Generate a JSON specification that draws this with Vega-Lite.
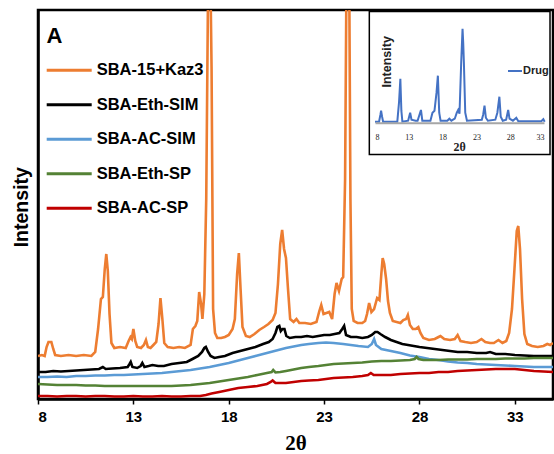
{
"$schema": "https://vega.github.io/schema/vega-lite/v6.json",
"width": 515, "height": 389,
"autosize": "none",
"padding": {"left": 38, "top": 10, "right": 1, "bottom": 55},
"background": "white",
"config": {"view": {"stroke": "black", "strokeWidth": 2.5}, "axis": {"grid": false}},
"datasets": {
"main": [
{"series":"SBA-15+Kaz3","theta":8.0,"intensity":43},{"series":"SBA-15+Kaz3","theta":8.2,"intensity":44},{"series":"SBA-15+Kaz3","theta":8.35,"intensity":43},{"series":"SBA-15+Kaz3","theta":8.45,"intensity":52},{"series":"SBA-15+Kaz3","theta":8.55,"intensity":57},{"series":"SBA-15+Kaz3","theta":8.7,"intensity":57},{"series":"SBA-15+Kaz3","theta":8.8,"intensity":50},{"series":"SBA-15+Kaz3","theta":8.9,"intensity":44},{"series":"SBA-15+Kaz3","theta":9.2,"intensity":43},{"series":"SBA-15+Kaz3","theta":9.6,"intensity":44},{"series":"SBA-15+Kaz3","theta":10.0,"intensity":43},{"series":"SBA-15+Kaz3","theta":10.4,"intensity":44},{"series":"SBA-15+Kaz3","theta":10.8,"intensity":43},{"series":"SBA-15+Kaz3","theta":11.0,"intensity":47},{"series":"SBA-15+Kaz3","theta":11.15,"intensity":70},{"series":"SBA-15+Kaz3","theta":11.3,"intensity":100},{"series":"SBA-15+Kaz3","theta":11.4,"intensity":102},{"series":"SBA-15+Kaz3","theta":11.5,"intensity":130},{"series":"SBA-15+Kaz3","theta":11.58,"intensity":145},{"series":"SBA-15+Kaz3","theta":11.66,"intensity":128},{"series":"SBA-15+Kaz3","theta":11.75,"intensity":85},{"series":"SBA-15+Kaz3","theta":11.85,"intensity":56},{"series":"SBA-15+Kaz3","theta":12.0,"intensity":51},{"series":"SBA-15+Kaz3","theta":12.3,"intensity":52},{"series":"SBA-15+Kaz3","theta":12.6,"intensity":51},{"series":"SBA-15+Kaz3","theta":12.75,"intensity":58},{"series":"SBA-15+Kaz3","theta":12.85,"intensity":62},{"series":"SBA-15+Kaz3","theta":12.92,"intensity":60},{"series":"SBA-15+Kaz3","theta":13.0,"intensity":70},{"series":"SBA-15+Kaz3","theta":13.1,"intensity":58},{"series":"SBA-15+Kaz3","theta":13.2,"intensity":52},{"series":"SBA-15+Kaz3","theta":13.4,"intensity":51},{"series":"SBA-15+Kaz3","theta":13.55,"intensity":54},{"series":"SBA-15+Kaz3","theta":13.66,"intensity":59},{"series":"SBA-15+Kaz3","theta":13.76,"intensity":52},{"series":"SBA-15+Kaz3","theta":13.9,"intensity":51},{"series":"SBA-15+Kaz3","theta":14.05,"intensity":54},{"series":"SBA-15+Kaz3","theta":14.2,"intensity":57},{"series":"SBA-15+Kaz3","theta":14.32,"intensity":75},{"series":"SBA-15+Kaz3","theta":14.42,"intensity":101},{"series":"SBA-15+Kaz3","theta":14.52,"intensity":80},{"series":"SBA-15+Kaz3","theta":14.62,"intensity":56},{"series":"SBA-15+Kaz3","theta":14.8,"intensity":52},{"series":"SBA-15+Kaz3","theta":15.1,"intensity":51},{"series":"SBA-15+Kaz3","theta":15.4,"intensity":52},{"series":"SBA-15+Kaz3","theta":15.7,"intensity":51},{"series":"SBA-15+Kaz3","theta":16.0,"intensity":54},{"series":"SBA-15+Kaz3","theta":16.12,"intensity":70},{"series":"SBA-15+Kaz3","theta":16.25,"intensity":73},{"series":"SBA-15+Kaz3","theta":16.35,"intensity":78},{"series":"SBA-15+Kaz3","theta":16.45,"intensity":107},{"series":"SBA-15+Kaz3","theta":16.55,"intensity":95},{"series":"SBA-15+Kaz3","theta":16.62,"intensity":80},{"series":"SBA-15+Kaz3","theta":16.72,"intensity":105},{"series":"SBA-15+Kaz3","theta":16.82,"intensity":200},{"series":"SBA-15+Kaz3","theta":16.92,"intensity":420},{"series":"SBA-15+Kaz3","theta":17.02,"intensity":450},{"series":"SBA-15+Kaz3","theta":17.1,"intensity":330},{"series":"SBA-15+Kaz3","theta":17.18,"intensity":90},{"series":"SBA-15+Kaz3","theta":17.28,"intensity":66},{"series":"SBA-15+Kaz3","theta":17.4,"intensity":61},{"series":"SBA-15+Kaz3","theta":17.6,"intensity":61},{"series":"SBA-15+Kaz3","theta":17.8,"intensity":62},{"series":"SBA-15+Kaz3","theta":18.0,"intensity":64},{"series":"SBA-15+Kaz3","theta":18.2,"intensity":70},{"series":"SBA-15+Kaz3","theta":18.32,"intensity":80},{"series":"SBA-15+Kaz3","theta":18.44,"intensity":125},{"series":"SBA-15+Kaz3","theta":18.53,"intensity":146},{"series":"SBA-15+Kaz3","theta":18.62,"intensity":110},{"series":"SBA-15+Kaz3","theta":18.72,"intensity":72},{"series":"SBA-15+Kaz3","theta":18.9,"intensity":63},{"series":"SBA-15+Kaz3","theta":19.1,"intensity":62},{"series":"SBA-15+Kaz3","theta":19.35,"intensity":65},{"series":"SBA-15+Kaz3","theta":19.6,"intensity":69},{"series":"SBA-15+Kaz3","theta":19.85,"intensity":72},{"series":"SBA-15+Kaz3","theta":20.08,"intensity":75},{"series":"SBA-15+Kaz3","theta":20.3,"intensity":79},{"series":"SBA-15+Kaz3","theta":20.45,"intensity":86},{"series":"SBA-15+Kaz3","theta":20.58,"intensity":115},{"series":"SBA-15+Kaz3","theta":20.7,"intensity":155},{"series":"SBA-15+Kaz3","theta":20.8,"intensity":169},{"series":"SBA-15+Kaz3","theta":20.9,"intensity":150},{"series":"SBA-15+Kaz3","theta":21.0,"intensity":141},{"series":"SBA-15+Kaz3","theta":21.1,"intensity":112},{"series":"SBA-15+Kaz3","theta":21.22,"intensity":80},{"series":"SBA-15+Kaz3","theta":21.4,"intensity":77},{"series":"SBA-15+Kaz3","theta":21.55,"intensity":80},{"series":"SBA-15+Kaz3","theta":21.7,"intensity":76},{"series":"SBA-15+Kaz3","theta":22.0,"intensity":76},{"series":"SBA-15+Kaz3","theta":22.3,"intensity":75},{"series":"SBA-15+Kaz3","theta":22.6,"intensity":77},{"series":"SBA-15+Kaz3","theta":22.75,"intensity":88},{"series":"SBA-15+Kaz3","theta":22.85,"intensity":94},{"series":"SBA-15+Kaz3","theta":22.97,"intensity":85},{"series":"SBA-15+Kaz3","theta":23.12,"intensity":86},{"series":"SBA-15+Kaz3","theta":23.27,"intensity":87},{"series":"SBA-15+Kaz3","theta":23.42,"intensity":80},{"series":"SBA-15+Kaz3","theta":23.55,"intensity":105},{"series":"SBA-15+Kaz3","theta":23.65,"intensity":116},{"series":"SBA-15+Kaz3","theta":23.78,"intensity":108},{"series":"SBA-15+Kaz3","theta":23.92,"intensity":120},{"series":"SBA-15+Kaz3","theta":24.0,"intensity":122},{"series":"SBA-15+Kaz3","theta":24.1,"intensity":220},{"series":"SBA-15+Kaz3","theta":24.2,"intensity":500},{"series":"SBA-15+Kaz3","theta":24.3,"intensity":480},{"series":"SBA-15+Kaz3","theta":24.38,"intensity":200},{"series":"SBA-15+Kaz3","theta":24.45,"intensity":90},{"series":"SBA-15+Kaz3","theta":24.55,"intensity":78},{"series":"SBA-15+Kaz3","theta":24.75,"intensity":76},{"series":"SBA-15+Kaz3","theta":25.0,"intensity":76},{"series":"SBA-15+Kaz3","theta":25.15,"intensity":78},{"series":"SBA-15+Kaz3","theta":25.25,"intensity":85},{"series":"SBA-15+Kaz3","theta":25.36,"intensity":96},{"series":"SBA-15+Kaz3","theta":25.48,"intensity":87},{"series":"SBA-15+Kaz3","theta":25.62,"intensity":90},{"series":"SBA-15+Kaz3","theta":25.78,"intensity":101},{"series":"SBA-15+Kaz3","theta":25.9,"intensity":99},{"series":"SBA-15+Kaz3","theta":26.0,"intensity":125},{"series":"SBA-15+Kaz3","theta":26.07,"intensity":141},{"series":"SBA-15+Kaz3","theta":26.15,"intensity":135},{"series":"SBA-15+Kaz3","theta":26.25,"intensity":120},{"series":"SBA-15+Kaz3","theta":26.35,"intensity":98},{"series":"SBA-15+Kaz3","theta":26.45,"intensity":86},{"series":"SBA-15+Kaz3","theta":26.6,"intensity":78},{"series":"SBA-15+Kaz3","theta":26.8,"intensity":77},{"series":"SBA-15+Kaz3","theta":27.0,"intensity":76},{"series":"SBA-15+Kaz3","theta":27.15,"intensity":79},{"series":"SBA-15+Kaz3","theta":27.3,"intensity":80},{"series":"SBA-15+Kaz3","theta":27.39,"intensity":84},{"series":"SBA-15+Kaz3","theta":27.5,"intensity":74},{"series":"SBA-15+Kaz3","theta":27.65,"intensity":70},{"series":"SBA-15+Kaz3","theta":27.8,"intensity":70},{"series":"SBA-15+Kaz3","theta":27.94,"intensity":72},{"series":"SBA-15+Kaz3","theta":28.05,"intensity":66},{"series":"SBA-15+Kaz3","theta":28.2,"intensity":61},{"series":"SBA-15+Kaz3","theta":28.5,"intensity":59},{"series":"SBA-15+Kaz3","theta":28.8,"intensity":60},{"series":"SBA-15+Kaz3","theta":29.0,"intensity":62},{"series":"SBA-15+Kaz3","theta":29.1,"intensity":63},{"series":"SBA-15+Kaz3","theta":29.3,"intensity":60},{"series":"SBA-15+Kaz3","theta":29.6,"intensity":59},{"series":"SBA-15+Kaz3","theta":29.85,"intensity":60},{"series":"SBA-15+Kaz3","theta":30.0,"intensity":64},{"series":"SBA-15+Kaz3","theta":30.15,"intensity":58},{"series":"SBA-15+Kaz3","theta":30.4,"intensity":57},{"series":"SBA-15+Kaz3","theta":30.7,"intensity":56},{"series":"SBA-15+Kaz3","theta":31.0,"intensity":57},{"series":"SBA-15+Kaz3","theta":31.25,"intensity":60},{"series":"SBA-15+Kaz3","theta":31.45,"intensity":57},{"series":"SBA-15+Kaz3","theta":31.7,"intensity":56},{"series":"SBA-15+Kaz3","theta":31.9,"intensity":56},{"series":"SBA-15+Kaz3","theta":32.14,"intensity":59},{"series":"SBA-15+Kaz3","theta":32.35,"intensity":56},{"series":"SBA-15+Kaz3","theta":32.55,"intensity":58},{"series":"SBA-15+Kaz3","theta":32.7,"intensity":66},{"series":"SBA-15+Kaz3","theta":32.85,"intensity":90},{"series":"SBA-15+Kaz3","theta":32.98,"intensity":130},{"series":"SBA-15+Kaz3","theta":33.1,"intensity":168},{"series":"SBA-15+Kaz3","theta":33.18,"intensity":173},{"series":"SBA-15+Kaz3","theta":33.27,"intensity":150},{"series":"SBA-15+Kaz3","theta":33.38,"intensity":100},{"series":"SBA-15+Kaz3","theta":33.5,"intensity":65},{"series":"SBA-15+Kaz3","theta":33.65,"intensity":55},{"series":"SBA-15+Kaz3","theta":33.9,"intensity":53},{"series":"SBA-15+Kaz3","theta":34.2,"intensity":52},{"series":"SBA-15+Kaz3","theta":34.5,"intensity":53},{"series":"SBA-15+Kaz3","theta":34.7,"intensity":55},{"series":"SBA-15+Kaz3","theta":34.85,"intensity":54},{"series":"SBA-15+Kaz3","theta":35.0,"intensity":56},
{"series":"SBA-Eth-SIM","theta":8.0,"intensity":27},{"series":"SBA-Eth-SIM","theta":8.4,"intensity":27},{"series":"SBA-Eth-SIM","theta":8.8,"intensity":28},{"series":"SBA-Eth-SIM","theta":9.2,"intensity":27.5},{"series":"SBA-Eth-SIM","theta":9.6,"intensity":28},{"series":"SBA-Eth-SIM","theta":10.0,"intensity":28.5},{"series":"SBA-Eth-SIM","theta":10.4,"intensity":29},{"series":"SBA-Eth-SIM","theta":10.8,"intensity":29.5},{"series":"SBA-Eth-SIM","theta":11.2,"intensity":30},{"series":"SBA-Eth-SIM","theta":11.4,"intensity":32},{"series":"SBA-Eth-SIM","theta":11.55,"intensity":30},{"series":"SBA-Eth-SIM","theta":11.9,"intensity":30.5},{"series":"SBA-Eth-SIM","theta":12.3,"intensity":31},{"series":"SBA-Eth-SIM","theta":12.7,"intensity":32},{"series":"SBA-Eth-SIM","theta":12.8,"intensity":35},{"series":"SBA-Eth-SIM","theta":12.86,"intensity":37},{"series":"SBA-Eth-SIM","theta":12.95,"intensity":32},{"series":"SBA-Eth-SIM","theta":13.2,"intensity":31},{"series":"SBA-Eth-SIM","theta":13.38,"intensity":33},{"series":"SBA-Eth-SIM","theta":13.47,"intensity":36},{"series":"SBA-Eth-SIM","theta":13.58,"intensity":32},{"series":"SBA-Eth-SIM","theta":13.8,"intensity":33},{"series":"SBA-Eth-SIM","theta":14.0,"intensity":34},{"series":"SBA-Eth-SIM","theta":14.3,"intensity":33},{"series":"SBA-Eth-SIM","theta":14.6,"intensity":33},{"series":"SBA-Eth-SIM","theta":15.0,"intensity":35},{"series":"SBA-Eth-SIM","theta":15.4,"intensity":36},{"series":"SBA-Eth-SIM","theta":15.8,"intensity":37},{"series":"SBA-Eth-SIM","theta":16.1,"intensity":40},{"series":"SBA-Eth-SIM","theta":16.4,"intensity":43},{"series":"SBA-Eth-SIM","theta":16.6,"intensity":47},{"series":"SBA-Eth-SIM","theta":16.72,"intensity":51},{"series":"SBA-Eth-SIM","theta":16.8,"intensity":52},{"series":"SBA-Eth-SIM","theta":16.92,"intensity":47},{"series":"SBA-Eth-SIM","theta":17.05,"intensity":43},{"series":"SBA-Eth-SIM","theta":17.25,"intensity":41},{"series":"SBA-Eth-SIM","theta":17.5,"intensity":42},{"series":"SBA-Eth-SIM","theta":17.8,"intensity":43},{"series":"SBA-Eth-SIM","theta":18.2,"intensity":46},{"series":"SBA-Eth-SIM","theta":18.6,"intensity":48},{"series":"SBA-Eth-SIM","theta":19.0,"intensity":50},{"series":"SBA-Eth-SIM","theta":19.4,"intensity":52},{"series":"SBA-Eth-SIM","theta":19.8,"intensity":55},{"series":"SBA-Eth-SIM","theta":20.1,"intensity":57},{"series":"SBA-Eth-SIM","theta":20.3,"intensity":60},{"series":"SBA-Eth-SIM","theta":20.45,"intensity":66},{"series":"SBA-Eth-SIM","theta":20.55,"intensity":72},{"series":"SBA-Eth-SIM","theta":20.65,"intensity":73},{"series":"SBA-Eth-SIM","theta":20.73,"intensity":68},{"series":"SBA-Eth-SIM","theta":20.82,"intensity":70},{"series":"SBA-Eth-SIM","theta":20.92,"intensity":70},{"series":"SBA-Eth-SIM","theta":21.02,"intensity":63},{"series":"SBA-Eth-SIM","theta":21.2,"intensity":61},{"series":"SBA-Eth-SIM","theta":21.5,"intensity":62},{"series":"SBA-Eth-SIM","theta":21.8,"intensity":62},{"series":"SBA-Eth-SIM","theta":22.1,"intensity":63},{"series":"SBA-Eth-SIM","theta":22.4,"intensity":62},{"series":"SBA-Eth-SIM","theta":22.7,"intensity":63},{"series":"SBA-Eth-SIM","theta":23.0,"intensity":64},{"series":"SBA-Eth-SIM","theta":23.3,"intensity":64},{"series":"SBA-Eth-SIM","theta":23.55,"intensity":65},{"series":"SBA-Eth-SIM","theta":23.8,"intensity":66},{"series":"SBA-Eth-SIM","theta":23.95,"intensity":70},{"series":"SBA-Eth-SIM","theta":24.05,"intensity":73},{"series":"SBA-Eth-SIM","theta":24.15,"intensity":64},{"series":"SBA-Eth-SIM","theta":24.4,"intensity":62},{"series":"SBA-Eth-SIM","theta":24.7,"intensity":62},{"series":"SBA-Eth-SIM","theta":25.0,"intensity":61},{"series":"SBA-Eth-SIM","theta":25.3,"intensity":62},{"series":"SBA-Eth-SIM","theta":25.5,"intensity":64},{"series":"SBA-Eth-SIM","theta":25.68,"intensity":67},{"series":"SBA-Eth-SIM","theta":25.8,"intensity":67},{"series":"SBA-Eth-SIM","theta":25.95,"intensity":65},{"series":"SBA-Eth-SIM","theta":26.2,"intensity":62},{"series":"SBA-Eth-SIM","theta":26.5,"intensity":59},{"series":"SBA-Eth-SIM","theta":26.8,"intensity":57},{"series":"SBA-Eth-SIM","theta":27.1,"intensity":55},{"series":"SBA-Eth-SIM","theta":27.4,"intensity":54},{"series":"SBA-Eth-SIM","theta":27.7,"intensity":53},{"series":"SBA-Eth-SIM","theta":28.0,"intensity":52},{"series":"SBA-Eth-SIM","theta":28.4,"intensity":51},{"series":"SBA-Eth-SIM","theta":28.8,"intensity":50},{"series":"SBA-Eth-SIM","theta":29.2,"intensity":49},{"series":"SBA-Eth-SIM","theta":29.6,"intensity":48},{"series":"SBA-Eth-SIM","theta":30.0,"intensity":47},{"series":"SBA-Eth-SIM","theta":30.5,"intensity":47},{"series":"SBA-Eth-SIM","theta":31.0,"intensity":46},{"series":"SBA-Eth-SIM","theta":31.5,"intensity":46},{"series":"SBA-Eth-SIM","theta":31.7,"intensity":47},{"series":"SBA-Eth-SIM","theta":32.0,"intensity":45},{"series":"SBA-Eth-SIM","theta":32.5,"intensity":45},{"series":"SBA-Eth-SIM","theta":33.0,"intensity":44},{"series":"SBA-Eth-SIM","theta":33.5,"intensity":43.5},{"series":"SBA-Eth-SIM","theta":34.0,"intensity":43},{"series":"SBA-Eth-SIM","theta":34.5,"intensity":43},{"series":"SBA-Eth-SIM","theta":35.0,"intensity":43},
{"series":"SBA-AC-SIM","theta":8.0,"intensity":22},{"series":"SBA-AC-SIM","theta":8.5,"intensity":22},{"series":"SBA-AC-SIM","theta":9.0,"intensity":22.5},{"series":"SBA-AC-SIM","theta":9.5,"intensity":22},{"series":"SBA-AC-SIM","theta":10.0,"intensity":23},{"series":"SBA-AC-SIM","theta":10.5,"intensity":23},{"series":"SBA-AC-SIM","theta":11.0,"intensity":23.5},{"series":"SBA-AC-SIM","theta":11.5,"intensity":23.5},{"series":"SBA-AC-SIM","theta":12.0,"intensity":24},{"series":"SBA-AC-SIM","theta":12.5,"intensity":24},{"series":"SBA-AC-SIM","theta":13.0,"intensity":24.5},{"series":"SBA-AC-SIM","theta":13.5,"intensity":25},{"series":"SBA-AC-SIM","theta":14.0,"intensity":25.5},{"series":"SBA-AC-SIM","theta":14.5,"intensity":26},{"series":"SBA-AC-SIM","theta":15.0,"intensity":27},{"series":"SBA-AC-SIM","theta":15.5,"intensity":28},{"series":"SBA-AC-SIM","theta":16.0,"intensity":29},{"series":"SBA-AC-SIM","theta":16.5,"intensity":30.5},{"series":"SBA-AC-SIM","theta":17.0,"intensity":32},{"series":"SBA-AC-SIM","theta":17.5,"intensity":34},{"series":"SBA-AC-SIM","theta":18.0,"intensity":36},{"series":"SBA-AC-SIM","theta":18.5,"intensity":38.5},{"series":"SBA-AC-SIM","theta":19.0,"intensity":41},{"series":"SBA-AC-SIM","theta":19.5,"intensity":43.5},{"series":"SBA-AC-SIM","theta":20.0,"intensity":46},{"series":"SBA-AC-SIM","theta":20.5,"intensity":48.5},{"series":"SBA-AC-SIM","theta":21.0,"intensity":51},{"series":"SBA-AC-SIM","theta":21.4,"intensity":52.5},{"series":"SBA-AC-SIM","theta":21.8,"intensity":54},{"series":"SBA-AC-SIM","theta":22.2,"intensity":55},{"series":"SBA-AC-SIM","theta":22.7,"intensity":56},{"series":"SBA-AC-SIM","theta":23.1,"intensity":56.5},{"series":"SBA-AC-SIM","theta":23.5,"intensity":56},{"series":"SBA-AC-SIM","theta":24.0,"intensity":55},{"series":"SBA-AC-SIM","theta":24.4,"intensity":54},{"series":"SBA-AC-SIM","theta":24.8,"intensity":53},{"series":"SBA-AC-SIM","theta":25.3,"intensity":52},{"series":"SBA-AC-SIM","theta":25.5,"intensity":55},{"series":"SBA-AC-SIM","theta":25.62,"intensity":60},{"series":"SBA-AC-SIM","theta":25.72,"intensity":54},{"series":"SBA-AC-SIM","theta":26.0,"intensity":50},{"series":"SBA-AC-SIM","theta":26.5,"intensity":48},{"series":"SBA-AC-SIM","theta":27.0,"intensity":46},{"series":"SBA-AC-SIM","theta":27.5,"intensity":43.5},{"series":"SBA-AC-SIM","theta":28.0,"intensity":42},{"series":"SBA-AC-SIM","theta":28.5,"intensity":40},{"series":"SBA-AC-SIM","theta":29.0,"intensity":39},{"series":"SBA-AC-SIM","theta":29.5,"intensity":37.5},{"series":"SBA-AC-SIM","theta":30.0,"intensity":36.5},{"series":"SBA-AC-SIM","theta":30.5,"intensity":36},{"series":"SBA-AC-SIM","theta":31.0,"intensity":35},{"series":"SBA-AC-SIM","theta":31.5,"intensity":34.5},{"series":"SBA-AC-SIM","theta":32.0,"intensity":34},{"series":"SBA-AC-SIM","theta":32.5,"intensity":33.5},{"series":"SBA-AC-SIM","theta":33.0,"intensity":33},{"series":"SBA-AC-SIM","theta":33.5,"intensity":32.5},{"series":"SBA-AC-SIM","theta":34.0,"intensity":32},{"series":"SBA-AC-SIM","theta":34.5,"intensity":32},{"series":"SBA-AC-SIM","theta":35.0,"intensity":32},
{"series":"SBA-Eth-SP","theta":8.0,"intensity":15},{"series":"SBA-Eth-SP","theta":8.5,"intensity":14.5},{"series":"SBA-Eth-SP","theta":9.0,"intensity":14},{"series":"SBA-Eth-SP","theta":9.5,"intensity":14},{"series":"SBA-Eth-SP","theta":10.0,"intensity":14},{"series":"SBA-Eth-SP","theta":10.5,"intensity":13.5},{"series":"SBA-Eth-SP","theta":11.0,"intensity":13.5},{"series":"SBA-Eth-SP","theta":11.5,"intensity":13},{"series":"SBA-Eth-SP","theta":12.0,"intensity":13},{"series":"SBA-Eth-SP","theta":12.5,"intensity":13},{"series":"SBA-Eth-SP","theta":13.0,"intensity":13},{"series":"SBA-Eth-SP","theta":13.5,"intensity":13},{"series":"SBA-Eth-SP","theta":14.0,"intensity":13},{"series":"SBA-Eth-SP","theta":14.5,"intensity":13},{"series":"SBA-Eth-SP","theta":15.0,"intensity":13},{"series":"SBA-Eth-SP","theta":15.5,"intensity":13.5},{"series":"SBA-Eth-SP","theta":16.0,"intensity":14},{"series":"SBA-Eth-SP","theta":16.5,"intensity":15},{"series":"SBA-Eth-SP","theta":17.0,"intensity":16},{"series":"SBA-Eth-SP","theta":17.5,"intensity":17.5},{"series":"SBA-Eth-SP","theta":18.0,"intensity":19},{"series":"SBA-Eth-SP","theta":18.5,"intensity":20.5},{"series":"SBA-Eth-SP","theta":19.0,"intensity":22},{"series":"SBA-Eth-SP","theta":19.5,"intensity":24},{"series":"SBA-Eth-SP","theta":20.0,"intensity":26},{"series":"SBA-Eth-SP","theta":20.25,"intensity":27},{"series":"SBA-Eth-SP","theta":20.33,"intensity":29},{"series":"SBA-Eth-SP","theta":20.45,"intensity":26.5},{"series":"SBA-Eth-SP","theta":20.7,"intensity":27},{"series":"SBA-Eth-SP","theta":21.0,"intensity":28},{"series":"SBA-Eth-SP","theta":21.4,"intensity":29.5},{"series":"SBA-Eth-SP","theta":21.8,"intensity":31},{"series":"SBA-Eth-SP","theta":22.2,"intensity":32},{"series":"SBA-Eth-SP","theta":22.7,"intensity":33},{"series":"SBA-Eth-SP","theta":23.1,"intensity":34},{"series":"SBA-Eth-SP","theta":23.5,"intensity":35},{"series":"SBA-Eth-SP","theta":24.0,"intensity":35.5},{"series":"SBA-Eth-SP","theta":24.5,"intensity":36},{"series":"SBA-Eth-SP","theta":25.0,"intensity":36.5},{"series":"SBA-Eth-SP","theta":25.5,"intensity":37.5},{"series":"SBA-Eth-SP","theta":26.0,"intensity":38},{"series":"SBA-Eth-SP","theta":26.5,"intensity":38},{"series":"SBA-Eth-SP","theta":27.0,"intensity":38.5},{"series":"SBA-Eth-SP","theta":27.5,"intensity":39},{"series":"SBA-Eth-SP","theta":27.75,"intensity":40},{"series":"SBA-Eth-SP","theta":27.85,"intensity":42},{"series":"SBA-Eth-SP","theta":27.95,"intensity":40},{"series":"SBA-Eth-SP","theta":28.2,"intensity":39},{"series":"SBA-Eth-SP","theta":28.6,"intensity":39},{"series":"SBA-Eth-SP","theta":29.0,"intensity":39},{"series":"SBA-Eth-SP","theta":29.5,"intensity":39.5},{"series":"SBA-Eth-SP","theta":30.0,"intensity":39.5},{"series":"SBA-Eth-SP","theta":30.5,"intensity":39.5},{"series":"SBA-Eth-SP","theta":31.0,"intensity":40},{"series":"SBA-Eth-SP","theta":31.5,"intensity":40},{"series":"SBA-Eth-SP","theta":32.0,"intensity":40},{"series":"SBA-Eth-SP","theta":32.5,"intensity":40.5},{"series":"SBA-Eth-SP","theta":33.0,"intensity":40.5},{"series":"SBA-Eth-SP","theta":33.5,"intensity":40.5},{"series":"SBA-Eth-SP","theta":34.0,"intensity":41},{"series":"SBA-Eth-SP","theta":34.5,"intensity":41},{"series":"SBA-Eth-SP","theta":35.0,"intensity":41},
{"series":"SBA-AC-SP","theta":8.0,"intensity":3},{"series":"SBA-AC-SP","theta":8.5,"intensity":3},{"series":"SBA-AC-SP","theta":9.0,"intensity":2.5},{"series":"SBA-AC-SP","theta":9.5,"intensity":3},{"series":"SBA-AC-SP","theta":10.0,"intensity":3},{"series":"SBA-AC-SP","theta":10.5,"intensity":2.5},{"series":"SBA-AC-SP","theta":11.0,"intensity":3},{"series":"SBA-AC-SP","theta":11.5,"intensity":3},{"series":"SBA-AC-SP","theta":12.0,"intensity":2.5},{"series":"SBA-AC-SP","theta":12.5,"intensity":2.5},{"series":"SBA-AC-SP","theta":13.0,"intensity":3},{"series":"SBA-AC-SP","theta":13.5,"intensity":2.5},{"series":"SBA-AC-SP","theta":14.0,"intensity":2.5},{"series":"SBA-AC-SP","theta":14.5,"intensity":3},{"series":"SBA-AC-SP","theta":15.0,"intensity":2.5},{"series":"SBA-AC-SP","theta":15.5,"intensity":2.5},{"series":"SBA-AC-SP","theta":16.0,"intensity":3},{"series":"SBA-AC-SP","theta":16.5,"intensity":3},{"series":"SBA-AC-SP","theta":16.8,"intensity":4},{"series":"SBA-AC-SP","theta":17.1,"intensity":5.5},{"series":"SBA-AC-SP","theta":17.5,"intensity":7},{"series":"SBA-AC-SP","theta":18.0,"intensity":9},{"series":"SBA-AC-SP","theta":18.5,"intensity":11},{"series":"SBA-AC-SP","theta":19.0,"intensity":12},{"series":"SBA-AC-SP","theta":19.5,"intensity":13},{"series":"SBA-AC-SP","theta":20.0,"intensity":15},{"series":"SBA-AC-SP","theta":20.2,"intensity":17},{"series":"SBA-AC-SP","theta":20.3,"intensity":18.5},{"series":"SBA-AC-SP","theta":20.45,"intensity":16},{"series":"SBA-AC-SP","theta":20.7,"intensity":16},{"series":"SBA-AC-SP","theta":21.0,"intensity":16},{"series":"SBA-AC-SP","theta":21.4,"intensity":17},{"series":"SBA-AC-SP","theta":21.8,"intensity":18},{"series":"SBA-AC-SP","theta":22.2,"intensity":18.5},{"series":"SBA-AC-SP","theta":22.7,"intensity":19},{"series":"SBA-AC-SP","theta":23.1,"intensity":20},{"series":"SBA-AC-SP","theta":23.5,"intensity":21},{"series":"SBA-AC-SP","theta":24.0,"intensity":21.5},{"series":"SBA-AC-SP","theta":24.5,"intensity":22},{"series":"SBA-AC-SP","theta":25.0,"intensity":23},{"series":"SBA-AC-SP","theta":25.3,"intensity":24},{"series":"SBA-AC-SP","theta":25.45,"intensity":26},{"series":"SBA-AC-SP","theta":25.6,"intensity":24},{"series":"SBA-AC-SP","theta":26.0,"intensity":24},{"series":"SBA-AC-SP","theta":26.5,"intensity":24},{"series":"SBA-AC-SP","theta":27.0,"intensity":25},{"series":"SBA-AC-SP","theta":27.5,"intensity":25.5},{"series":"SBA-AC-SP","theta":28.0,"intensity":26},{"series":"SBA-AC-SP","theta":28.5,"intensity":26},{"series":"SBA-AC-SP","theta":29.0,"intensity":27},{"series":"SBA-AC-SP","theta":29.5,"intensity":27},{"series":"SBA-AC-SP","theta":30.0,"intensity":28},{"series":"SBA-AC-SP","theta":30.5,"intensity":28.5},{"series":"SBA-AC-SP","theta":31.0,"intensity":29},{"series":"SBA-AC-SP","theta":31.5,"intensity":29.5},{"series":"SBA-AC-SP","theta":32.0,"intensity":30},{"series":"SBA-AC-SP","theta":32.5,"intensity":30},{"series":"SBA-AC-SP","theta":33.0,"intensity":30},{"series":"SBA-AC-SP","theta":33.5,"intensity":29},{"series":"SBA-AC-SP","theta":34.0,"intensity":28},{"series":"SBA-AC-SP","theta":34.5,"intensity":27.5},{"series":"SBA-AC-SP","theta":35.0,"intensity":27}
],
"drug": [
{"theta":8.0,"intensity":1},{"theta":8.6,"intensity":1},{"theta":8.8,"intensity":8},{"theta":8.9,"intensity":12},{"theta":9.05,"intensity":6},{"theta":9.2,"intensity":1},{"theta":11.3,"intensity":1},{"theta":11.55,"intensity":20},{"theta":11.75,"intensity":44},{"theta":11.9,"intensity":12},{"theta":12.05,"intensity":1},{"theta":12.9,"intensity":2},{"theta":13.2,"intensity":10},{"theta":13.4,"intensity":3},{"theta":14.0,"intensity":2},{"theta":14.3,"intensity":2},{"theta":14.8,"intensity":12.7},{"theta":15.0,"intensity":2},{"theta":16.2,"intensity":2},{"theta":16.5,"intensity":10},{"theta":16.8,"intensity":12},{"theta":17.1,"intensity":30},{"theta":17.3,"intensity":47},{"theta":17.5,"intensity":10},{"theta":17.7,"intensity":2},{"theta":18.7,"intensity":2},{"theta":19.0,"intensity":4},{"theta":19.3,"intensity":2},{"theta":19.8,"intensity":4},{"theta":20.1,"intensity":10},{"theta":20.3,"intensity":12.7},{"theta":20.5,"intensity":9},{"theta":20.75,"intensity":60},{"theta":20.95,"intensity":94},{"theta":21.05,"intensity":80},{"theta":21.15,"intensity":60},{"theta":21.35,"intensity":10},{"theta":21.6,"intensity":2},{"theta":23.8,"intensity":3},{"theta":24.0,"intensity":8},{"theta":24.2,"intensity":17},{"theta":24.4,"intensity":5},{"theta":24.7,"intensity":2},{"theta":25.8,"intensity":3},{"theta":26.1,"intensity":10},{"theta":26.4,"intensity":26},{"theta":26.6,"intensity":6},{"theta":26.9,"intensity":2},{"theta":27.4,"intensity":3},{"theta":27.7,"intensity":12.7},{"theta":27.9,"intensity":4},{"theta":28.4,"intensity":2},{"theta":28.9,"intensity":5},{"theta":29.2,"intensity":1.5},{"theta":32.6,"intensity":1.5},{"theta":32.9,"intensity":3.5},{"theta":33.1,"intensity":1}
]
},
"layer": [
{
"layer": [
{
"data": {"name": "main"},
"mark": {"type": "line", "strokeWidth": 2.6, "clip": true},
"encoding": {
"x": {"field": "theta", "type": "quantitative",
 "scale": {"domain": [8, 35], "nice": false, "zero": false},
 "axis": {"orient": "bottom", "values": [8, 13, 18, 23, 28, 33], "labelFont": "Liberation Sans", "labelFontWeight": "bold", "labelFontSize": 15, "labelColor": "black", "tickColor": "black", "tickSize": 5, "tickWidth": 1.5, "domainColor": "black", "domainWidth": 2.5, "labelPadding": 5, "title": "2θ", "titleFont": "Liberation Serif", "titleFontSize": 21, "titleFontWeight": "bold", "titleColor": "black", "titleY": 50, "titleBaseline": "alphabetic"}},
"y": {"field": "intensity", "type": "quantitative",
 "scale": {"domain": [0, 389], "nice": false, "zero": false},
 "axis": {"orient": "left", "ticks": false, "labels": false, "domainColor": "black", "domainWidth": 2.5, "title": "Intensity", "titleFont": "Liberation Sans", "titleFontSize": 19.5, "titleFontWeight": "bold", "titleColor": "black", "titleX": -10.7, "titleY": 196.7, "titleAngle": -90, "titleAlign": "center", "titleBaseline": "alphabetic"}},
"color": {"field": "series", "type": "nominal",
 "scale": {"domain": ["SBA-15+Kaz3", "SBA-Eth-SIM", "SBA-AC-SIM", "SBA-Eth-SP", "SBA-AC-SP"], "range": ["#ED7D31", "#000000", "#5B9BD5", "#548235", "#C00000"]},
 "legend": {"orient": "none", "legendX": 7.2, "legendY": 36.3, "title": null, "symbolType": "stroke", "symbolSize": 2025, "symbolStrokeWidth": 3, "labelFont": "Liberation Sans", "labelFontSize": 16.5, "labelFontWeight": "bold", "labelColor": "black", "labelOffset": 3.5, "rowPadding": 1.5, "padding": 0, "labelLimit": 300}}
}
},
{
"data": {"values": [{}]},
"mark": {"type": "text", "text": "A", "font": "Liberation Sans", "fontSize": 22, "fontWeight": "bold", "align": "left", "baseline": "alphabetic", "color": "black"},
"encoding": {"x": {"datum": 8.45}, "y": {"datum": 356}}
}
]
},
{
"layer": [
{
"data": {"values": [{}]},
"mark": {"type": "rect", "fill": "white", "stroke": "black", "strokeWidth": 1.5},
"encoding": {
"x": {"datum": 7.16, "type": "quantitative",
 "scale": {"domain": [8, 33], "range": [337, 506], "nice": false, "zero": false},
 "axis": {"orient": "bottom", "zindex": 1, "offset": -276.3, "values": [8, 13, 18, 23, 28, 33], "domainColor": "#a6a6a6", "domainWidth": 2, "ticks": false, "tickSize": 0, "labelFont": "Liberation Serif", "labelFontSize": 8, "labelColor": "#222222", "labelPadding": 11, "title": "2θ", "titleFont": "Liberation Serif", "titleFontSize": 12, "titleFontWeight": "bold", "titleColor": "#222222", "titleX": 421, "titleY": 27.3, "titleBaseline": "alphabetic"}},
"x2": {"datum": 33.89},
"y": {"datum": 111.2, "type": "quantitative",
 "scale": {"domain": [0, 100], "range": [112.7, 12.7], "nice": false, "zero": false},
 "axis": {"orient": "left", "zindex": 1, "domain": false, "ticks": false, "labels": false, "title": "Intensity", "titleFont": "Liberation Sans", "titleFontSize": 12.5, "titleFontWeight": "bold", "titleColor": "#222222", "titleX": 348, "titleY": 51.3, "titleAngle": -90, "titleAlign": "center", "titleBaseline": "middle"}},
"y2": {"datum": -31.8}
}
},
{
"data": {"name": "drug"},
"mark": {"type": "line", "strokeWidth": 2},
"encoding": {
"x": {"field": "theta", "type": "quantitative"},
"y": {"field": "intensity", "type": "quantitative"},
"color": {"datum": "Drug", "type": "nominal",
 "scale": {"range": ["#4472C4"]},
 "legend": {"orient": "none", "legendX": 469, "legendY": 53, "title": null, "symbolType": "stroke", "symbolSize": 196, "symbolStrokeWidth": 2, "labelFont": "Liberation Sans", "labelFontSize": 11, "labelFontWeight": "bold", "labelColor": "#222222", "labelOffset": 0, "padding": 0}}
}
}
]
}
],
"resolve": {"scale": {"x": "independent", "y": "independent", "color": "independent"}}
}
